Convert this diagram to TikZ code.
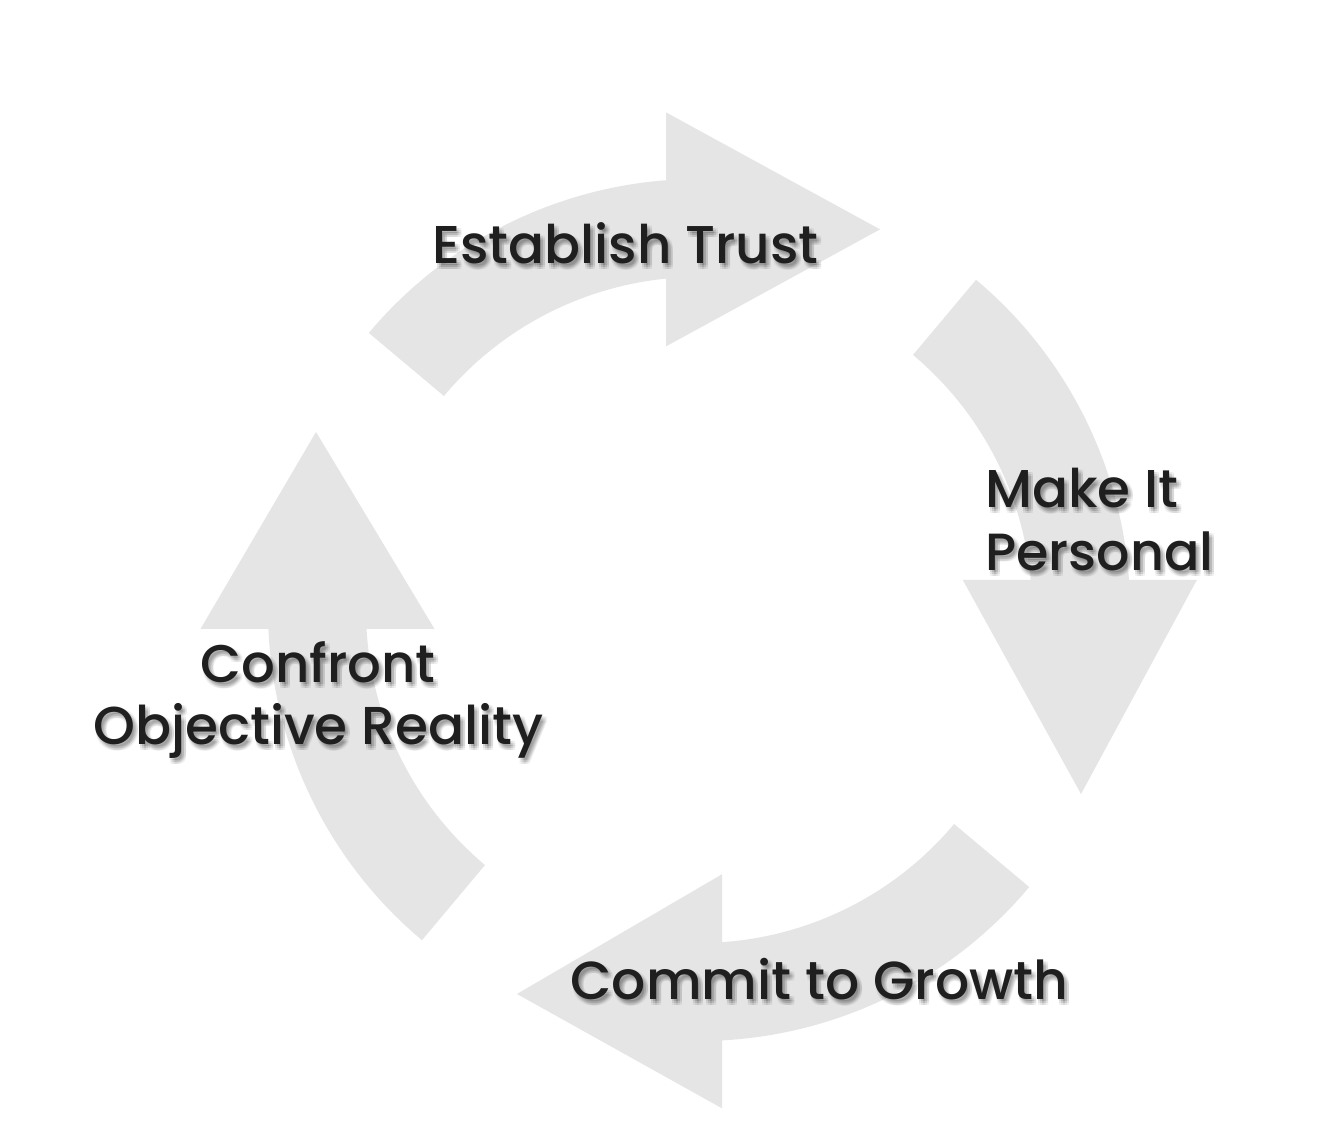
\documentclass[tikz,border=0pt]{standalone}
\usepackage{fontspec}
\newfontfamily\labfont{Poppins Medium}
\colorlet{arrowgray}{black!10}
\tikzset{
  arrowfill/.style={fill=arrowgray},
  labtxt/.style={inner sep=0pt, anchor=base west, text=black!88},
  shadowtxt/.style={inner sep=0pt, anchor=base west, text=black, opacity=0.05}
}
\newcommand\shlabel[5]{%
  \foreach \sx/\sy [count=\k] in {1/-2,3/-2,5/-2,1/-4,3/-4,5/-4,1/-6,3/-6,5/-6} {
    \node[shadowtxt] (#1-sh\k) at (#2+\sx,#3+\sy) {\resizebox{#4pt}{!}{\labfont #5}};
  }
  \node[labtxt] (#1) at (#2,#3) {\resizebox{#4pt}{!}{\labfont #5}};
}
\begin{document}
\begin{tikzpicture}[x=0.5pt,y=0.5pt]
\useasboundingbox (0,0) rectangle (1332,1122);
\fill[white] (0,0) rectangle (1332,1122);
\coordinate (C) at (699,512);
% top arrow
\begin{scope}
\clip (0,0) rectangle (666,1122);
\fill[arrowfill] ([shift={(140:431)}]C) arc[start angle=140,end angle=80,radius=431]
  -- ([shift={(80:333)}]C) arc[start angle=80,end angle=140,radius=333] -- cycle;
\end{scope}
\fill[arrowfill] (666,775.6) -- (880,892.6) -- (666,1009.6) -- cycle;
% right arrow
\begin{scope}
\clip (0,542) rectangle (1332,1122);
\fill[arrowfill] ([shift={(50:431)}]C) arc[start angle=50,end angle=-10,radius=431]
  -- ([shift={(-10:333)}]C) arc[start angle=-10,end angle=50,radius=333] -- cycle;
\end{scope}
\fill[arrowfill] (962.8,542) -- (1081,328) -- (1196.8,542) -- cycle;
% bottom arrow
\begin{scope}
\clip (722,0) rectangle (1332,1122);
\fill[arrowfill] ([shift={(320:431)}]C) arc[start angle=320,end angle=260,radius=431]
  -- ([shift={(260:333)}]C) arc[start angle=260,end angle=320,radius=333] -- cycle;
\end{scope}
\fill[arrowfill] (722,247.7) -- (517,128) -- (722,13.7) -- cycle;
% left arrow
\begin{scope}
\clip (0,0) rectangle (1332,493);
\fill[arrowfill] ([shift={(230:431)}]C) arc[start angle=230,end angle=170,radius=431]
  -- ([shift={(170:333)}]C) arc[start angle=170,end angle=230,radius=333] -- cycle;
\end{scope}
\fill[arrowfill] (200.5,493) -- (316,690) -- (434.5,493) -- cycle;
% labels
\shlabel{trust}{432}{858}{193}{Establish Trust}
\shlabel{make}{985}{614}{96.5}{Make It}
\shlabel{pers}{985}{551}{114}{Personal}
\shlabel{conf}{200}{439}{117.5}{Confront}
\shlabel{obj}{93}{377}{225}{Objective Reality}
\shlabel{comm}{570}{122}{249}{Commit to Growth}
\end{tikzpicture}
\end{document}
